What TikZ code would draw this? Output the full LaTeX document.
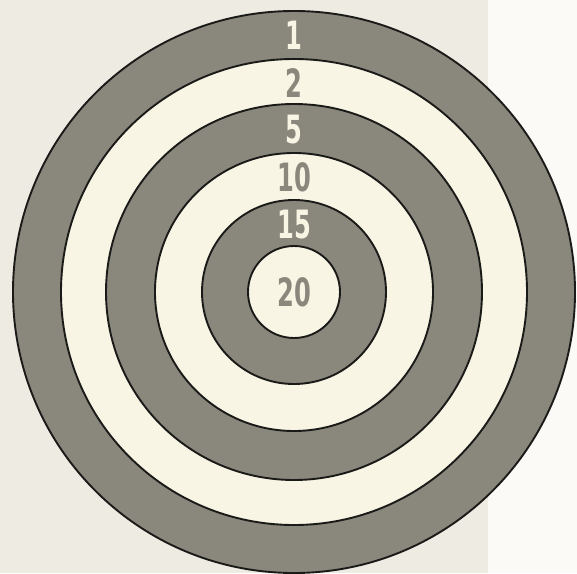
\documentclass[tikz,border=0pt]{standalone}
\usepackage{fontspec}
\usepackage{xcolor}
\newfontfamily\scorefont[FakeStretch=0.62]{DejaVu Sans}
\definecolor{paperbg}{HTML}{EEEBE3}
\definecolor{paperstrip}{HTML}{FBFAF7}
\definecolor{ringgray}{HTML}{8A877C}
\definecolor{ringcream}{HTML}{F8F5E4}
\definecolor{ringline}{HTML}{1A1A18}
\tikzset{
  darkring/.style={fill=ringgray,draw=ringline,line width=1.9pt},
  lightring/.style={fill=ringcream,draw=ringline,line width=1.9pt},
  score/.style={font=\scorefont\bfseries\fontsize{39}{39}\selectfont,inner sep=0pt,anchor=center},
  darkscore/.style={score,text=ringcream},
  lightscore/.style={score,text=ringgray}
}

\begin{document}
\begin{tikzpicture}[x=1pt,y=1pt]
  % page and paper
  \useasboundingbox (-294,-281) rectangle (283,292);
  \fill[paperbg] (-294,-281) rectangle (283,292);
  \fill[paperstrip] (194,-281) rectangle (283,292);
  % rings, outside in
  \draw[darkring] (0,0) circle (281);
  \draw[lightring] (0,0) circle (233);
  \draw[darkring] (0,0) circle (188);
  \draw[lightring] (0,0) circle (139);
  \draw[darkring] (0,0) circle (92);
  \draw[lightring] (0,0) circle (46);
  % scores
  \node[darkscore] (one) at (0,257) {1};
  \node[lightscore] (two) at (0,209) {2};
  \node[darkscore] (five) at (0,162) {5};
  \node[lightscore] (ten) at (0,115) {10};
  \node[darkscore] (fifteen) at (0,67) {15};
  \node[lightscore] (twenty) at (0,0) {20};
\end{tikzpicture}
\end{document}
